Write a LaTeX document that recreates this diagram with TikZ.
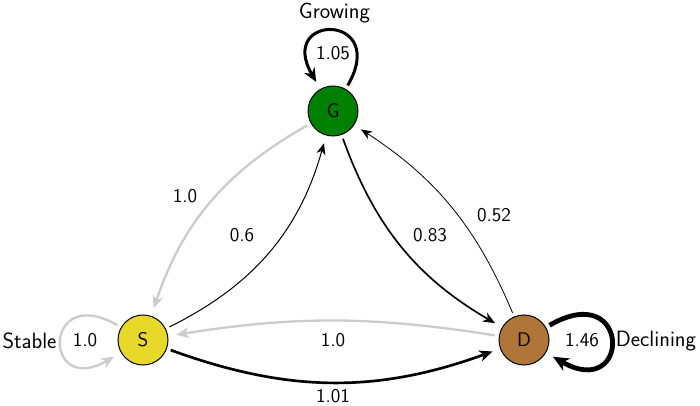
\documentclass[tikz,border=0pt]{standalone}
\usetikzlibrary{arrows.meta}
\definecolor{gfill}{HTML}{008000}
\definecolor{sfill}{HTML}{E8D82A}
\definecolor{dfill}{HTML}{B07538}
\definecolor{lgray}{HTML}{CCCCCC}
\begin{document}
\begin{tikzpicture}[x=0.75pt,y=-0.75pt,
  state/.style={circle,draw=black,line width=0.75pt,minimum size=37.5pt,inner sep=0pt,font=\fontsize{14.8}{17}\sffamily},
  lbl/.style={font=\fontsize{14.6}{17}\sffamily,anchor=base,inner sep=0pt},
  statename/.style={font=\fontsize{16.6}{19}\sffamily,anchor=base,inner sep=0pt},
  tr/.style={-{Stealth[length=7.5pt 1.2,width=5.8pt 1.3,inset=2.2pt 0.4]},shorten >=6pt,shorten <=3pt},
]
\useasboundingbox (0,0) rectangle (700,406);
\node[state,fill=gfill] (G) at (333,111) {G};
\node[state,fill=sfill] (S) at (143,340) {S};
\node[state,fill=dfill] (D) at (524,340) {D};

\draw[tr,lgray,line width=1.75pt] (G) to[bend right=21] (S);
\draw[tr,line width=0.75pt] (S) to[bend right=24] (G);
\draw[tr,line width=1.25pt] (G) to[bend right=20] (D);
\draw[tr,line width=0.6pt] (D) to[bend right=17] (G);
\draw[tr,line width=2pt] (S) to[bend right=20] (D);
\draw[tr,lgray,line width=1.75pt] (D) to[bend right=9] (S);

\draw[tr,line width=2.25pt] (G) to[out=60,in=120,distance=66pt] (G);
\draw[tr,lgray,line width=1.75pt] (S) to[out=150,in=210,distance=68pt] (S);
\draw[tr,line width=3.6pt] (D) to[out=30,in=-30,distance=74pt] (D);

\node[lbl] (lGS) at (185,203) {1.0};
\node[lbl] (lSG) at (242,241.7) {0.6};
\node[lbl] (lGD) at (430,241.7) {0.83};
\node[lbl] (lDG) at (494,222) {0.52};
\node[lbl] (lDS) at (333,346.7) {1.0};
\node[lbl] (lSD) at (333,402.7) {1.01};
\node[lbl] (lGG) at (333,60) {1.05};
\node[lbl] (lSS) at (85,346.7) {1.0};
\node[lbl] (lDD) at (582,346) {1.46};
\node[statename] (nG) at (334.5,18.3) {Growing};
\node[statename] (nS) at (29.5,348) {Stable};
\node[statename] (nD) at (656,346) {Declining};
\end{tikzpicture}
\end{document}
